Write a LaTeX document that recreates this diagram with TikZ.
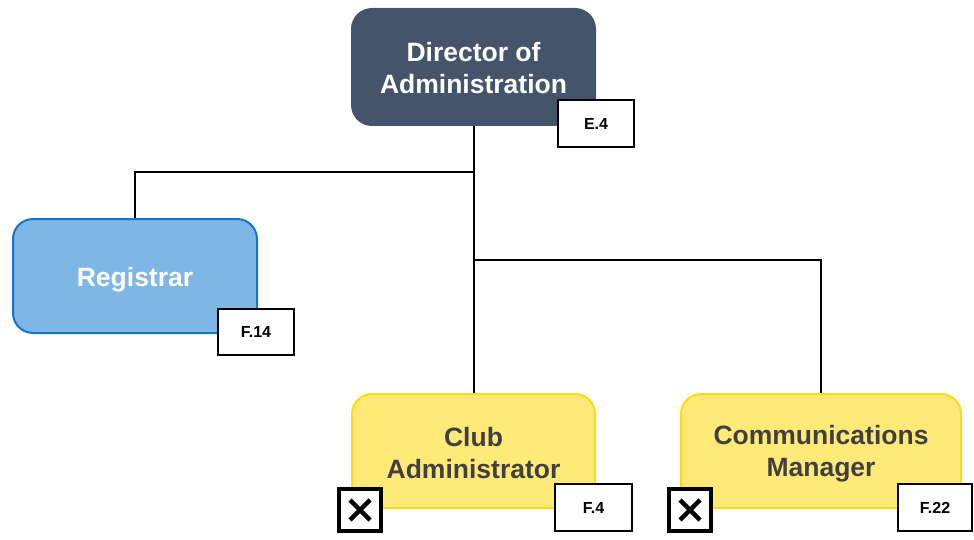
\documentclass[tikz,border=0pt]{standalone}
\usepackage{fontspec}
\setmainfont{Liberation Sans}
\definecolor{navy}{HTML}{44546A}
\definecolor{skyfill}{HTML}{7EB6E6}
\definecolor{skyline}{HTML}{1A73C8}
\definecolor{goldfill}{HTML}{FFE977}
\definecolor{goldline}{HTML}{FFD81A}
\definecolor{darktext}{HTML}{404040}
\begin{document}
\begin{tikzpicture}[x=1pt,y=-1pt,
  role/.style={rounded corners=20pt, line width=2pt, inner sep=0pt},
  roletext/.style={align=center, inner sep=0pt,
    font=\fontsize{26.5}{32}\selectfont\bfseries},
  topbox/.style={role, fill=navy, draw=navy},
  bluebox/.style={role, fill=skyfill, draw=skyline},
  yellowbox/.style={role, fill=goldfill, draw=goldline},
  tag/.style={draw=black, fill=white, line width=2pt, inner sep=0pt,
    font=\fontsize{16}{18}\selectfont\bfseries},
  xbox/.style={draw=black, fill=white, line width=4pt, inner sep=0pt,
    minimum width=42pt, minimum height=42pt},
  wire/.style={draw=black, line width=2pt}
]
\useasboundingbox (0,0) rectangle (974,540);

% role boxes with their titles
\node[topbox, minimum width=243pt, minimum height=116pt,
  label={[roletext, text=white, yshift=-1.5pt]center:{Director of\\Administration}}] (dir) at (473.5,67) {};
\node[bluebox, minimum width=244pt, minimum height=114pt,
  label={[roletext, text=white, yshift=-4pt]center:{Registrar}}] (reg) at (135,276) {};
\node[yellowbox, minimum width=243pt, minimum height=114pt,
  label={[roletext, text=darktext, yshift=-2.5pt]center:{Club\\Administrator}}] (club) at (473.5,451) {};
\node[yellowbox, minimum width=280pt, minimum height=114pt,
  label={[roletext, text=darktext, yshift=-3pt]center:{Communications\\Manager}}] (comm) at (821,451) {};

% junctions on the trunk
\coordinate (j1) at (473.5,172);
\coordinate (j2) at (473.5,260);

% reporting lines
\draw[wire] (dir.south) -- (club.north);
\draw[wire] (reg.north) |- (j1);
\draw[wire] (j2) -| (comm.north);

% grade tags
\node[tag, minimum width=76pt, minimum height=47pt] (tE4) at (596,123.5) {E.4};
\node[tag, minimum width=76pt, minimum height=46pt] (tF14) at (256,332) {F.14};
\node[tag, minimum width=77pt, minimum height=47pt] (tF4) at (593.5,507.5) {F.4};
\node[tag, minimum width=74pt, minimum height=47pt] (tF22) at (935,507.5) {F.22};

% cross markers
\node[xbox] (x1) at (360,510) {};
\node[xbox] (x2) at (690,510) {};
\foreach \b in {x1,x2}{
  \draw[line width=4.5pt] ([shift={(-10pt,-10pt)}]\b.center) -- ([shift={(10pt,10pt)}]\b.center);
  \draw[line width=4.5pt] ([shift={(-10pt,10pt)}]\b.center) -- ([shift={(10pt,-10pt)}]\b.center);
}
\end{tikzpicture}
\end{document}
